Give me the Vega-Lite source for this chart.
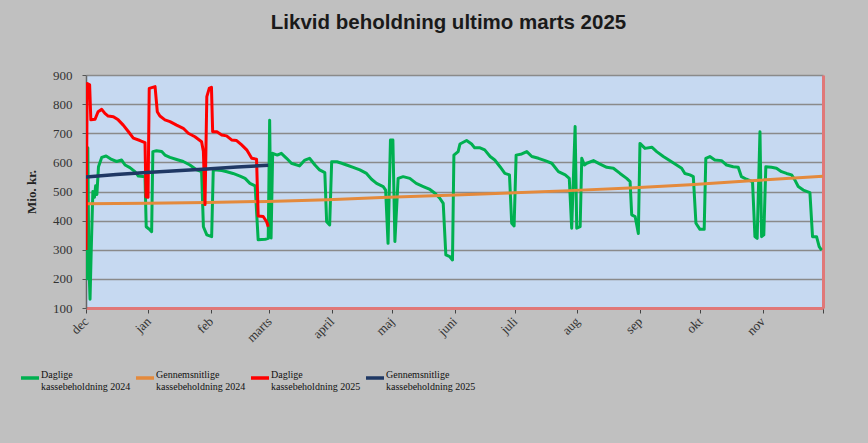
{
  "$schema": "https://vega.github.io/schema/vega-lite/v6.json",
  "width": 737,
  "height": 233,
  "autosize": {"type": "none"},
  "padding": {"left": 86, "top": 75, "right": 45, "bottom": 135},
  "background": "#c0c0c0",
  "config": {"view": {"stroke": null, "fill": "#c6d9f1"}},
  "title": {"text": "Likvid beholdning ultimo marts 2025", "font": "Liberation Sans", "fontSize": 20.5, "fontWeight": "bold", "color": "#1a1a1a", "anchor": "middle", "dx": -6, "offset": 36},
  "resolve": {"axis": {"y": "independent"}},
  "datasets": {
    "d24": [
      {"dag": 0, "mio": 300}, {"dag": 0.3, "mio": 200}, {"dag": 0.9, "mio": 650}, {"dag": 1.4, "mio": 260}, {"dag": 2.0, "mio": 130}, {"dag": 2.6, "mio": 300}, {"dag": 3.4, "mio": 500}, {"dag": 4.2, "mio": 480}, {"dag": 4.8, "mio": 520}, {"dag": 5.4, "mio": 490}, {"dag": 6.2, "mio": 585}, {"dag": 7.8, "mio": 617}, {"dag": 10, "mio": 622}, {"dag": 12.7, "mio": 610}, {"dag": 15.2, "mio": 603}, {"dag": 17.7, "mio": 608}, {"dag": 19.4, "mio": 591}, {"dag": 21.8, "mio": 582}, {"dag": 24.3, "mio": 568}, {"dag": 26, "mio": 553}, {"dag": 29.3, "mio": 551}, {"dag": 29.9, "mio": 379}, {"dag": 31.8, "mio": 368}, {"dag": 32.6, "mio": 362}, {"dag": 33.2, "mio": 637}, {"dag": 35, "mio": 640}, {"dag": 37.6, "mio": 637}, {"dag": 39.2, "mio": 625}, {"dag": 41.7, "mio": 617}, {"dag": 45, "mio": 610}, {"dag": 48.3, "mio": 603}, {"dag": 51.6, "mio": 591}, {"dag": 55, "mio": 574}, {"dag": 57.4, "mio": 568}, {"dag": 58.3, "mio": 379}, {"dag": 60, "mio": 351}, {"dag": 62.4, "mio": 345}, {"dag": 63.2, "mio": 574}, {"dag": 65, "mio": 574}, {"dag": 67.4, "mio": 572}, {"dag": 70, "mio": 568}, {"dag": 73, "mio": 562}, {"dag": 76.5, "mio": 553}, {"dag": 79, "mio": 545}, {"dag": 81.4, "mio": 528}, {"dag": 84, "mio": 519}, {"dag": 85.5, "mio": 334}, {"dag": 89, "mio": 336}, {"dag": 90.5, "mio": 339}, {"dag": 91.2, "mio": 745}, {"dag": 91.9, "mio": 340}, {"dag": 92.7, "mio": 631}, {"dag": 95, "mio": 625}, {"dag": 97, "mio": 631}, {"dag": 99.6, "mio": 614}, {"dag": 102, "mio": 597}, {"dag": 106, "mio": 588}, {"dag": 108.7, "mio": 608}, {"dag": 111, "mio": 614}, {"dag": 113.7, "mio": 591}, {"dag": 116, "mio": 574}, {"dag": 118.6, "mio": 565}, {"dag": 119.5, "mio": 396}, {"dag": 121, "mio": 385}, {"dag": 122, "mio": 602}, {"dag": 124.6, "mio": 602}, {"dag": 127, "mio": 597}, {"dag": 129.4, "mio": 591}, {"dag": 132.7, "mio": 583}, {"dag": 136, "mio": 574}, {"dag": 139.3, "mio": 562}, {"dag": 141.8, "mio": 542}, {"dag": 144.3, "mio": 528}, {"dag": 147.6, "mio": 517}, {"dag": 148.8, "mio": 505}, {"dag": 150, "mio": 322}, {"dag": 151.2, "mio": 677}, {"dag": 152.4, "mio": 677}, {"dag": 153.4, "mio": 328}, {"dag": 155, "mio": 545}, {"dag": 157.5, "mio": 551}, {"dag": 160.8, "mio": 545}, {"dag": 164, "mio": 528}, {"dag": 167.5, "mio": 517}, {"dag": 170.8, "mio": 507}, {"dag": 173.3, "mio": 494}, {"dag": 175.7, "mio": 477}, {"dag": 177.4, "mio": 459}, {"dag": 178.7, "mio": 282}, {"dag": 180.7, "mio": 276}, {"dag": 182, "mio": 265}, {"dag": 182.7, "mio": 625}, {"dag": 184.8, "mio": 637}, {"dag": 185.7, "mio": 663}, {"dag": 189, "mio": 675}, {"dag": 191.5, "mio": 663}, {"dag": 193, "mio": 650}, {"dag": 195.7, "mio": 650}, {"dag": 198, "mio": 643}, {"dag": 200.7, "mio": 620}, {"dag": 203, "mio": 608}, {"dag": 205.6, "mio": 585}, {"dag": 208, "mio": 562}, {"dag": 210.3, "mio": 557}, {"dag": 211.4, "mio": 391}, {"dag": 212.6, "mio": 382}, {"dag": 213.6, "mio": 625}, {"dag": 216.4, "mio": 629}, {"dag": 218.9, "mio": 637}, {"dag": 221.4, "mio": 620}, {"dag": 224.7, "mio": 614}, {"dag": 228, "mio": 606}, {"dag": 231.3, "mio": 597}, {"dag": 234.6, "mio": 568}, {"dag": 238, "mio": 557}, {"dag": 240, "mio": 545}, {"dag": 241.2, "mio": 374}, {"dag": 242.9, "mio": 723}, {"dag": 243.7, "mio": 374}, {"dag": 245.4, "mio": 379}, {"dag": 246.2, "mio": 614}, {"dag": 247.5, "mio": 591}, {"dag": 248.7, "mio": 597}, {"dag": 252, "mio": 606}, {"dag": 255.3, "mio": 594}, {"dag": 258.6, "mio": 583}, {"dag": 261.9, "mio": 580}, {"dag": 265.2, "mio": 562}, {"dag": 268.5, "mio": 545}, {"dag": 270.2, "mio": 534}, {"dag": 271, "mio": 420}, {"dag": 272.7, "mio": 414}, {"dag": 274.3, "mio": 356}, {"dag": 275.1, "mio": 665}, {"dag": 277.6, "mio": 648}, {"dag": 281, "mio": 652}, {"dag": 283.4, "mio": 637}, {"dag": 286.7, "mio": 620}, {"dag": 290.8, "mio": 602}, {"dag": 293.3, "mio": 591}, {"dag": 295.8, "mio": 580}, {"dag": 297.4, "mio": 562}, {"dag": 299.9, "mio": 557}, {"dag": 301.6, "mio": 551}, {"dag": 302.9, "mio": 391}, {"dag": 304.9, "mio": 370}, {"dag": 307, "mio": 370}, {"dag": 307.8, "mio": 614}, {"dag": 309.8, "mio": 620}, {"dag": 312.3, "mio": 608}, {"dag": 315.6, "mio": 606}, {"dag": 318.1, "mio": 591}, {"dag": 321.4, "mio": 585}, {"dag": 323.9, "mio": 583}, {"dag": 325.5, "mio": 551}, {"dag": 328, "mio": 542}, {"dag": 331, "mio": 534}, {"dag": 332.2, "mio": 345}, {"dag": 333.3, "mio": 339}, {"dag": 334.7, "mio": 705}, {"dag": 335.5, "mio": 345}, {"dag": 336.6, "mio": 351}, {"dag": 337.6, "mio": 585}, {"dag": 340.4, "mio": 583}, {"dag": 342.9, "mio": 580}, {"dag": 345.4, "mio": 568}, {"dag": 347.9, "mio": 562}, {"dag": 350.4, "mio": 557}, {"dag": 352, "mio": 540}, {"dag": 353.7, "mio": 517}, {"dag": 356.2, "mio": 505}, {"dag": 359.5, "mio": 496}, {"dag": 360.8, "mio": 345}, {"dag": 362.8, "mio": 345}, {"dag": 364.1, "mio": 311}, {"dag": 365.3, "mio": 299}
    ],
    "g24": [
      {"dag": 0, "mio": 458}, {"dag": 30, "mio": 460}, {"dag": 60, "mio": 462}, {"dag": 90, "mio": 466}, {"dag": 120, "mio": 472}, {"dag": 150, "mio": 480}, {"dag": 180, "mio": 487}, {"dag": 210, "mio": 495}, {"dag": 240, "mio": 503}, {"dag": 270, "mio": 512}, {"dag": 300, "mio": 523}, {"dag": 330, "mio": 537}, {"dag": 366, "mio": 552}
    ],
    "d25": [
      {"dag": 0, "mio": 299}, {"dag": 0.6, "mio": 871}, {"dag": 1.8, "mio": 866}, {"dag": 2.4, "mio": 746}, {"dag": 4.5, "mio": 748}, {"dag": 6, "mio": 774}, {"dag": 7.8, "mio": 782}, {"dag": 9.4, "mio": 768}, {"dag": 11, "mio": 759}, {"dag": 13.6, "mio": 757}, {"dag": 16, "mio": 746}, {"dag": 18.5, "mio": 728}, {"dag": 21, "mio": 706}, {"dag": 23.5, "mio": 683}, {"dag": 26.8, "mio": 675}, {"dag": 29.3, "mio": 668}, {"dag": 29.8, "mio": 482}, {"dag": 30.8, "mio": 480}, {"dag": 31.4, "mio": 854}, {"dag": 34.3, "mio": 860}, {"dag": 35.4, "mio": 774}, {"dag": 36.7, "mio": 759}, {"dag": 39.2, "mio": 746}, {"dag": 41.7, "mio": 740}, {"dag": 45, "mio": 728}, {"dag": 48.3, "mio": 717}, {"dag": 50.8, "mio": 700}, {"dag": 54.1, "mio": 688}, {"dag": 57.4, "mio": 671}, {"dag": 58.3, "mio": 637}, {"dag": 59.1, "mio": 455}, {"dag": 60, "mio": 826}, {"dag": 61.2, "mio": 854}, {"dag": 62.3, "mio": 858}, {"dag": 62.9, "mio": 705}, {"dag": 65, "mio": 705}, {"dag": 67.4, "mio": 694}, {"dag": 69.8, "mio": 691}, {"dag": 72.3, "mio": 677}, {"dag": 74.8, "mio": 675}, {"dag": 77.3, "mio": 660}, {"dag": 79.8, "mio": 643}, {"dag": 82.3, "mio": 614}, {"dag": 84.7, "mio": 611}, {"dag": 85.5, "mio": 416}, {"dag": 88, "mio": 414}, {"dag": 89.7, "mio": 396}, {"dag": 90.5, "mio": 379}
    ],
    "g25": [
      {"dag": 0, "mio": 550}, {"dag": 15, "mio": 558}, {"dag": 30, "mio": 565}, {"dag": 45, "mio": 571}, {"dag": 60, "mio": 577}, {"dag": 75, "mio": 584}, {"dag": 90.5, "mio": 590}
    ]
  },
  "layer": [
    {
      "data": {"name": "d24"},
      "mark": {"type": "line", "strokeWidth": 3, "strokeJoin": "round", "clip": true},
      "encoding": {
        "x": {"field": "dag", "type": "quantitative", "scale": {"domain": [0, 366], "nice": false, "zero": false},
          "axis": {"title": null, "grid": false,
            "values": [0, 7.75, 15.5, 23.25, 31, 38.75, 46.5, 54.25, 62, 69.25, 76.5, 83.75, 91, 98.75, 106.5, 114.25, 122, 129.5, 137, 144.5, 152, 159.75, 167.5, 175.25, 183, 190.5, 198, 205.5, 213, 220.75, 228.5, 236.25, 244, 251.75, 259.5, 267.25, 275, 282.5, 290, 297.5, 305, 312.75, 320.5, 328.25, 336, 343.5, 351, 358.5, 366],
            "labelExpr": "indexof([0,31,62,91,122,152,183,213,244,275,305,336], datum.value) >= 0 ? ['dec','jan','feb','marts','april','maj','juni','juli','aug','sep','okt','nov'][indexof([0,31,62,91,122,152,183,213,244,275,305,336], datum.value)] : ''",
            "labelAngle": -45, "labelAlign": "right", "labelBaseline": "middle", "labelOverlap": false, "labelFlush": false, "labelBound": false,
            "labelFont": "Liberation Serif", "labelFontSize": 13, "labelColor": "#333333", "labelPadding": 6,
            "tickSize": 5, "tickColor": "#444444", "tickWidth": 1,
            "domainColor": "#e07878", "domainWidth": 3}},
        "y": {"field": "mio", "type": "quantitative", "scale": {"domain": [100, 900], "nice": false, "zero": false},
          "axis": {"orient": "left", "title": "Mio. kr.", "titleFont": "Liberation Serif", "titleFontSize": 13, "titleFontWeight": "bold", "titleColor": "#222222", "titlePadding": 14,
            "values": [100, 200, 300, 400, 500, 600, 700, 800, 900],
            "labelFont": "Liberation Serif", "labelFontSize": 13, "labelColor": "#333333", "labelPadding": 10,
            "tickSize": 4, "tickColor": "#555555", "domainColor": "#666666", "domainWidth": 1.5,
            "gridColor": "#8a8a8a", "gridWidth": 1.5}},
        "color": {"datum": "Daglige kassebeholdning 2024", "type": "nominal",
          "scale": {"domain": ["Daglige kassebeholdning 2024", "Gennemsnitlige kassebeholdning 2024", "Daglige kassebeholdning 2025", "Gennemsnitlige kassebeholdning 2025"], "range": ["#00b050", "#e48a3c", "#ff0000", "#1f3864"]},
          "legend": {"title": null, "orient": "none", "legendX": -67, "legendY": 292, "direction": "horizontal", "gridAlign": "all", "columnPadding": -2,
            "symbolType": "stroke", "symbolSize": 324, "symbolStrokeWidth": 3.5,
            "labelFont": "Liberation Serif", "labelFontSize": 10, "labelColor": "#111111", "labelOffset": 0, "labelLimit": 200, "labelBaseline": "alphabetic",
            "labelExpr": "[substring(datum.label, 0, indexof(datum.label, ' ')), substring(datum.label, indexof(datum.label, ' ') + 1)]"}}
      }
    },
    {
      "data": {"name": "g24"},
      "mark": {"type": "line", "strokeWidth": 3, "strokeJoin": "round", "clip": true},
      "encoding": {
        "x": {"field": "dag", "type": "quantitative"},
        "y": {"field": "mio", "type": "quantitative", "axis": null},
        "color": {"datum": "Gennemsnitlige kassebeholdning 2024", "type": "nominal"}
      }
    },
    {
      "data": {"name": "d25"},
      "mark": {"type": "line", "strokeWidth": 3, "strokeJoin": "round", "clip": true},
      "encoding": {
        "x": {"field": "dag", "type": "quantitative"},
        "y": {"field": "mio", "type": "quantitative", "axis": null},
        "color": {"datum": "Daglige kassebeholdning 2025", "type": "nominal"}
      }
    },
    {
      "data": {"name": "g25"},
      "mark": {"type": "line", "strokeWidth": 3.5, "strokeJoin": "round", "clip": true},
      "encoding": {
        "x": {"field": "dag", "type": "quantitative"},
        "y": {"field": "mio", "type": "quantitative", "axis": null},
        "color": {"datum": "Gennemsnitlige kassebeholdning 2025", "type": "nominal"}
      }
    },
    {
      "data": {"name": "g24"},
      "mark": {"type": "line", "opacity": 0},
      "encoding": {
        "x": {"field": "dag", "type": "quantitative"},
        "y": {"field": "mio", "type": "quantitative", "axis": {"orient": "right", "labels": false, "ticks": false, "grid": false, "title": null, "domainColor": "#e07878", "domainWidth": 3}}
      }
    }
  ]
}
